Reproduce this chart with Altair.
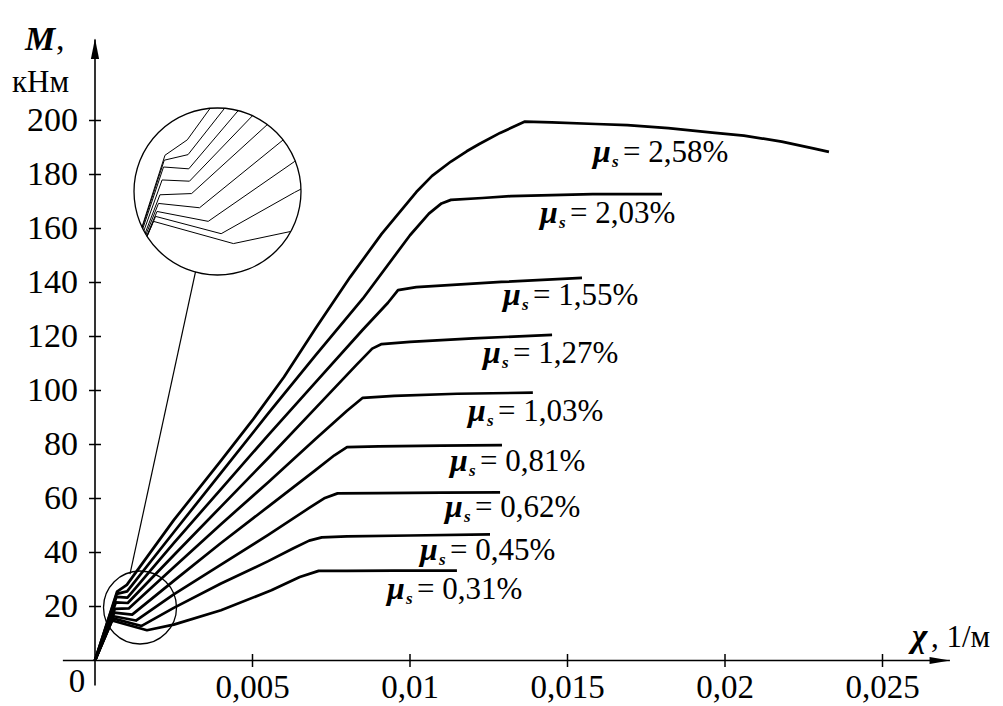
import altair as alt
import pandas as pd

# ---------------- data ----------------
series_names = ["0,31", "0,45", "0,62", "0,81", "1,03", "1,27", "1,55", "2,03", "2,58"]

chi_031 = [0, 0.00054, 0.00165, 0.0025, 0.0040, 0.0056, 0.0065, 0.0071, 0.0080, 0.0095, 0.01149]
m_031 = [0, 14.8, 11.2, 13.3, 18.6, 26.0, 30.9, 33.2, 33.2, 33.3, 33.3]

chi_045 = [0, 0.00057, 0.00148, 0.0025, 0.0040, 0.0055, 0.0063, 0.0068, 0.0072, 0.0080, 0.0100, 0.01254]
m_045 = [0, 15.6, 12.8, 19.5, 28.5, 36.8, 41.6, 44.4, 45.6, 46.0, 46.3, 46.7]

chi_062 = [0, 0.00059, 0.00130, 0.0025, 0.0040, 0.0055, 0.0068, 0.0073, 0.0077, 0.0090, 0.0110, 0.01286]
m_062 = [0, 16.4, 14.8, 24.5, 35.5, 46.5, 56.5, 60.2, 61.9, 62.0, 62.2, 62.3]

chi_081 = [0, 0.00061, 0.00118, 0.0025, 0.0040, 0.0055, 0.0070, 0.0076, 0.0080, 0.0090, 0.0110, 0.01292]
m_081 = [0, 17.7, 17.0, 29.5, 43.5, 57.0, 70.5, 76.0, 79.0, 79.3, 79.6, 79.8]

chi_103 = [0, 0.00063, 0.00107, 0.0025, 0.0040, 0.0055, 0.0070, 0.0080, 0.0085, 0.0095, 0.0115, 0.0139]
m_103 = [0, 19.1, 19.3, 34.5, 50.5, 66.0, 82.0, 92.5, 97.3, 98.0, 98.8, 99.2]

chi_127 = [0, 0.00066, 0.00104, 0.0025, 0.0040, 0.0055, 0.0070, 0.0083, 0.0088, 0.0091, 0.0100, 0.0120, 0.01451]
m_127 = [0, 21.5, 21.3, 39.0, 57.0, 75.0, 93.5, 109.5, 115.5, 117.2, 118.0, 119.3, 120.6]

chi_155 = [0, 0.00068, 0.00103, 0.0025, 0.0040, 0.0055, 0.0070, 0.0085, 0.0093, 0.00962, 0.0102, 0.0129, 0.01546]
m_155 = [0, 23.6, 23.3, 43.5, 63.5, 83.5, 103.0, 122.5, 132.5, 137.2, 138.3, 140.2, 141.7]

chi_203 = [0, 0.00069, 0.00102, 0.0025, 0.0040, 0.0055, 0.0070, 0.0085, 0.0100, 0.0106, 0.0110, 0.0113, 0.0123,
           0.0132, 0.0158, 0.0180]
m_203 = [0, 24.7, 25.6, 47.5, 69.5, 91.5, 113.0, 134.0, 157.5, 165.5, 169.3, 170.6, 171.3, 172.0, 172.7, 172.7]

chi_258 = [0, 0.00070, 0.00101, 0.0025, 0.0040, 0.0050, 0.0060, 0.0070, 0.0081, 0.0091, 0.0102, 0.0107, 0.0113,
           0.0118, 0.0122, 0.01286, 0.01365, 0.0145, 0.0159, 0.0169, 0.0182, 0.0196, 0.0206, 0.0218, 0.0228, 0.0233]
m_258 = [0, 25.5, 28.0, 52.0, 74.0, 89.0, 105.0, 123.0, 142.0, 158.0, 173.5, 179.5, 184.8,
         188.6, 191.3, 195.4, 199.6, 199.3, 198.7, 198.3, 197.2, 195.5, 194.4, 192.2, 189.7, 188.4]

all_chi = [chi_031, chi_045, chi_062, chi_081, chi_103, chi_127, chi_155, chi_203, chi_258]
all_m = [m_031, m_045, m_062, m_081, m_103, m_127, m_155, m_203, m_258]

# label anchors (left edge of mu, text baseline) in data units
label_chi = [0.00927, 0.01032, 0.01111, 0.01127, 0.01184, 0.01232, 0.01295, 0.01413, 0.01581]
label_m = [22.8, 37.2, 53.1, 70.2, 88.7, 110.2, 131.7, 162.0, 184.6]
label_text = ["= 0,31%", "= 0,45%", "= 0,62%", "= 0,81%", "= 1,03%", "= 1,27%", "= 1,55%", "= 2,03%", "= 2,58%"]

x_ticks = [0.005, 0.01, 0.015, 0.02, 0.025]
x_tick_labels = ["0,005", "0,01", "0,015", "0,02", "0,025"]
y_ticks = [20, 40, 60, 80, 100, 120, 140, 160, 180, 200]
y_tick_labels = ["20", "40", "60", "80", "100", "120", "140", "160", "180", "200"]

# ---------------- layout / scales ----------------
W, H = 1003, 706
X_MIN, X_MAX = -0.0030159, 0.0288254
Y_MIN, Y_MAX = -16.85, 244.63
KX = W / (X_MAX - X_MIN)   # px per unit chi
KY = H / (Y_MAX - Y_MIN)   # px per kNm

X_AXIS_START, X_AXIS_END = -0.00102, 0.02714
Y_AXIS_START, Y_AXIS_END = -9.3, 230.0
X_ARROW, Y_ARROW = 0.02682, 226.6

# magnifier: small circle around cracking zone, big circle inset
S_CHI, S_M, S_R = 0.001429, 19.63, 36.5
B_CHI, B_M, B_R = 0.003889, 173.7, 83.5
MAG = B_R / S_R
CONN = [(0.00319, 143.9), (0.00111, 32.0)]

FONT = "Liberation Serif, Times New Roman, serif"

# ---------------- tables ----------------
rows = []
for name, cx, cm in zip(series_names, all_chi, all_m):
    for i, (a, b) in enumerate(zip(cx, cm)):
        rows.append({"series": name, "i": i, "x": a, "M": b})
curves = pd.DataFrame(rows)


def clip_to_circle(pts, r):
    """pts in px relative to circle centre; returns list of pieces inside circle"""
    pieces, cur = [], []
    for (x0, y0), (x1, y1) in zip(pts[:-1], pts[1:]):
        dx, dy = x1 - x0, y1 - y0
        a = dx * dx + dy * dy
        b = 2 * (x0 * dx + y0 * dy)
        c = x0 * x0 + y0 * y0 - r * r
        if a == 0:
            continue
        disc = b * b - 4 * a * c
        if disc <= 0:
            if cur:
                pieces.append(cur)
                cur = []
            continue
        sq = disc ** 0.5
        t0 = max(0.0, (-b - sq) / (2 * a))
        t1 = min(1.0, (-b + sq) / (2 * a))
        if t0 >= t1:
            if cur:
                pieces.append(cur)
                cur = []
            continue
        p0 = (x0 + t0 * dx, y0 + t0 * dy)
        p1 = (x0 + t1 * dx, y0 + t1 * dy)
        if not cur:
            cur = [p0]
        cur.append(p1)
        if t1 < 1.0:
            pieces.append(cur)
            cur = []
    if cur:
        pieces.append(cur)
    return pieces


inset_rows = []
for name, cx, cm in zip(series_names, all_chi, all_m):
    rel = [((a - S_CHI) * KX, (b - S_M) * KY) for a, b in zip(cx, cm)]
    for k, piece in enumerate(clip_to_circle(rel, S_R)):
        for i, (u, v) in enumerate(piece):
            inset_rows.append({"piece": f"{name}-{k}", "i": i,
                               "x": B_CHI + u * MAG / KX, "M": B_M + v * MAG / KY})
inset = pd.DataFrame(inset_rows)

xs = alt.Scale(domain=[X_MIN, X_MAX], nice=False, zero=False)
ys = alt.Scale(domain=[Y_MIN, Y_MAX], nice=False, zero=False)
X = lambda f="x": alt.X(f"{f}:Q", scale=xs, axis=None)
Y = lambda f="M": alt.Y(f"{f}:Q", scale=ys, axis=None)

curve_layer = alt.Chart(curves).mark_line(color="black", strokeWidth=2.7, strokeJoin="round").encode(
    x=X(), y=Y(), detail="series:N", order="i:Q")

inset_layer = alt.Chart(inset).mark_line(color="black", strokeWidth=1.0).encode(
    x=X(), y=Y(), detail="piece:N", order="i:Q")

circles = pd.DataFrame({"x": [S_CHI, B_CHI], "M": [S_M, B_M], "d2": [(2 * S_R) ** 2, (2 * B_R) ** 2]})
circle_layer = alt.Chart(circles).mark_point(shape="circle", filled=False, color="black",
                                             strokeWidth=1.3, opacity=1).encode(
    x=X(), y=Y(), size=alt.Size("d2:Q", scale=None, legend=None))

conn = pd.DataFrame({"x": [CONN[0][0]], "M": [CONN[0][1]], "x2": [CONN[1][0]], "M2": [CONN[1][1]]})
conn_layer = alt.Chart(conn).mark_rule(color="black", strokeWidth=1.2).encode(
    x=X(), y=Y(), x2="x2:Q", y2="M2:Q")

axes = pd.DataFrame({"x": [X_AXIS_START, 0], "M": [0, Y_AXIS_START], "x2": [X_AXIS_END, 0], "M2": [0, Y_AXIS_END]})
axis_layer = alt.Chart(axes).mark_rule(color="black", strokeWidth=1.6).encode(
    x=X(), y=Y(), x2="x2:Q", y2="M2:Q")

arrows = pd.DataFrame({"x": [0, X_ARROW], "M": [Y_ARROW, 0], "shape": ["up", "right"]})
arrow_up = alt.Chart(arrows[arrows["shape"] == "up"]).mark_point(
    shape="M0,-1L0.4,1L-0.4,1Z", filled=True, color="black", size=420, opacity=1).encode(x=X(), y=Y())
arrow_right = alt.Chart(arrows[arrows["shape"] == "right"]).mark_point(
    shape="M1,0L-1,0.35L-1,-0.35Z", filled=True, color="black", size=420, opacity=1).encode(x=X(), y=Y())

xt = pd.DataFrame({"x": x_ticks, "M": [0] * len(x_ticks), "lab": x_tick_labels})
yt = pd.DataFrame({"x": [0] * len(y_ticks), "M": y_ticks, "lab": y_tick_labels})

xtick_layer = alt.Chart(xt).mark_tick(orient="vertical", size=13, thickness=1.5, color="black", opacity=1).encode(
    x=X(), y=Y())
ytick_layer = alt.Chart(yt).mark_tick(orient="horizontal", size=12, thickness=1.5, color="black", opacity=1).encode(
    x=X(), y=Y())

xlab_layer = alt.Chart(xt).mark_text(font=FONT, fontSize=33, dy=27, baseline="middle", align="center",
                                     color="black").encode(x=X(), y=Y(), text="lab:N")
ylab_layer = alt.Chart(yt).mark_text(font=FONT, fontSize=34, dx=-17, baseline="middle", align="right",
                                     color="black").encode(x=X(), y=Y(), text="lab:N")
zero_layer = alt.Chart(pd.DataFrame({"x": [0], "M": [0], "lab": ["0"]})).mark_text(
    font=FONT, fontSize=33, dx=-18, dy=21, baseline="middle", align="center", color="black").encode(
    x=X(), y=Y(), text="lab:N")

lab = pd.DataFrame({"x": label_chi, "M": label_m, "t": label_text, "mu": ["μ"] * 9, "s": ["s"] * 9})
mu_layer = alt.Chart(lab).mark_text(font=FONT, fontSize=32, fontWeight="bold", fontStyle="italic",
                                    align="left", baseline="alphabetic", color="black").encode(
    x=X(), y=Y(), text="mu:N")
s_layer = alt.Chart(lab).mark_text(font=FONT, fontSize=17, fontWeight="bold", fontStyle="italic",
                                   align="left", baseline="alphabetic", dx=19, dy=5, color="black").encode(
    x=X(), y=Y(), text="s:N")
t_layer = alt.Chart(lab).mark_text(font=FONT, fontSize=31, align="left", baseline="alphabetic", dx=30,
                                   color="black").encode(x=X(), y=Y(), text="t:N")

# axis titles
ytitle = pd.DataFrame({"x": [0, 0, 0], "M": [Y_AXIS_END, Y_AXIS_END, Y_AXIS_END],
                       "t": ["M", ",", "кНм"]})
ytitle_m = alt.Chart(ytitle.iloc[[0]]).mark_text(font=FONT, fontSize=34, fontWeight="bold", fontStyle="italic",
                                                 align="left", baseline="alphabetic", dx=-70, dy=10,
                                                 color="black").encode(x=X(), y=Y(), text="t:N")
ytitle_c = alt.Chart(ytitle.iloc[[1]]).mark_text(font=FONT, fontSize=34, align="left", baseline="alphabetic",
                                                 dx=-39, dy=10, color="black").encode(x=X(), y=Y(), text="t:N")
ytitle_u = alt.Chart(ytitle.iloc[[2]]).mark_text(font=FONT, fontSize=31, align="left", baseline="alphabetic",
                                                 dx=-83, dy=52, color="black").encode(x=X(), y=Y(), text="t:N")

xtitle = pd.DataFrame({"x": [X_AXIS_END, X_AXIS_END], "M": [0, 0], "t": ["χ", ", 1/м"]})
xtitle_chi = alt.Chart(xtitle.iloc[[0]]).mark_text(font=FONT, fontSize=33, fontWeight="bold", fontStyle="italic",
                                                   align="left", baseline="alphabetic", dx=-38, dy=-14,
                                                   color="black").encode(x=X(), y=Y(), text="t:N")
xtitle_u = alt.Chart(xtitle.iloc[[1]]).mark_text(font=FONT, fontSize=31, align="left", baseline="alphabetic",
                                                 dx=-19, dy=-14, color="black").encode(x=X(), y=Y(), text="t:N")

chart = alt.layer(
    curve_layer, inset_layer, circle_layer, conn_layer, axis_layer, arrow_up, arrow_right,
    xtick_layer, ytick_layer, xlab_layer, ylab_layer, zero_layer,
    mu_layer, s_layer, t_layer, ytitle_m, ytitle_c, ytitle_u, xtitle_chi, xtitle_u
).properties(
    width=W, height=H, autosize=alt.AutoSizeParams(type="none"), padding=0, background="white"
).configure_view(stroke=None)

chart.save("out.html", embed_options={"renderer": "svg", "actions": False})
